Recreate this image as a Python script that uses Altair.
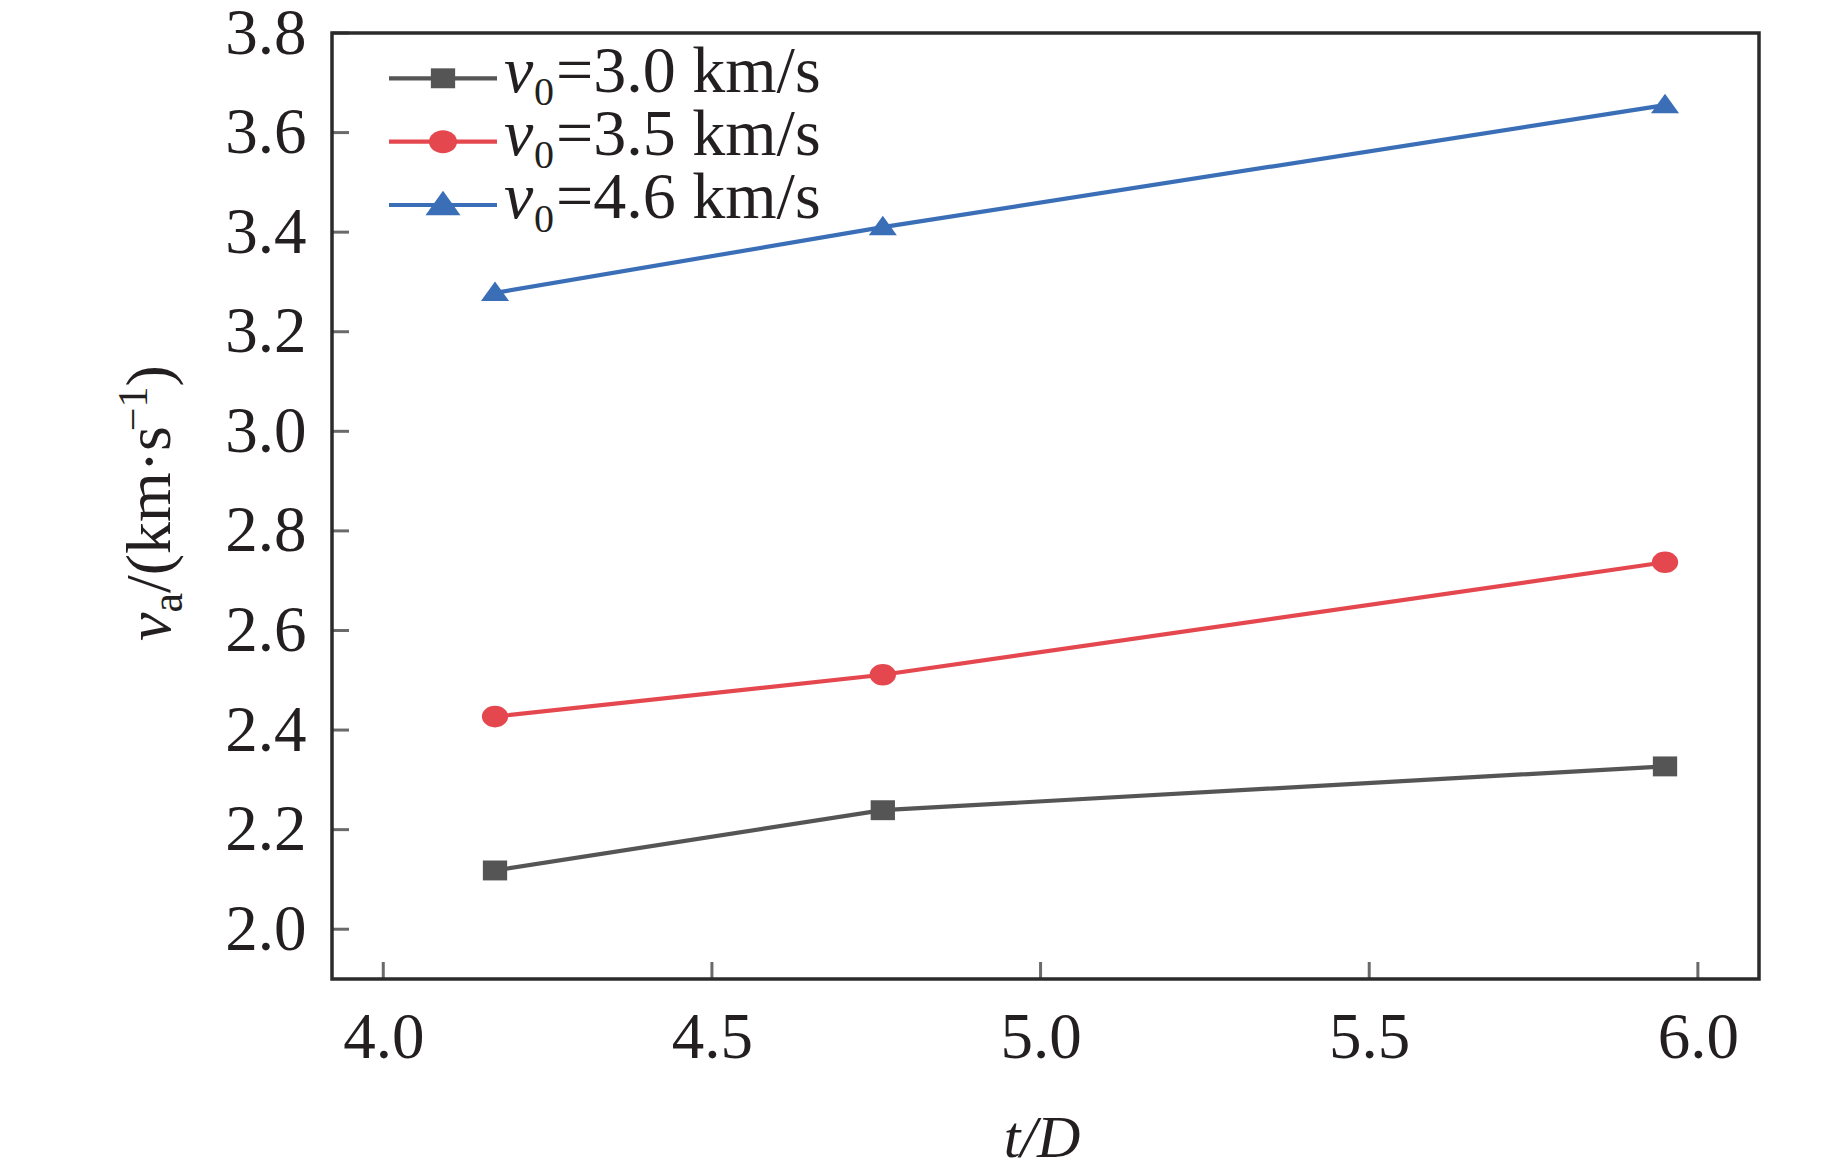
import altair as alt
import pandas as pd

# t/D and measured v_a (km/s) for each impact velocity v0
t_D = [4.17, 4.76, 5.95]
va_30 = [2.118, 2.239, 2.327]
va_35 = [2.427, 2.511, 2.737]
va_46 = [3.278, 3.410, 3.655]

v0_labels = ["3.0", "3.5", "4.6"]
series = ["v0=%s km/s" % v for v in v0_labels]
colors = ["#555555", "#e5474f", "#3a6fb8"]

x_ticks = [4.0, 4.5, 5.0, 5.5, 6.0]
y_ticks = [2.0, 2.2, 2.4, 2.6, 2.8, 3.0, 3.2, 3.4, 3.6, 3.8]

df = pd.DataFrame({
    "t_D": t_D * 3,
    "va": va_30 + va_35 + va_46,
    "series": [s for s in series for _ in t_D],
})

W, H = 1427, 946
FONT = "Liberation Serif"
INK = "#231f20"
FRAME = "#2b2b2b"

x_scale = alt.Scale(domain=[3.922, 6.093], nice=False, zero=False)
y_scale = alt.Scale(domain=[1.90, 3.80], nice=False, zero=False)

x_axis = alt.Axis(values=x_ticks, format=".1f", title=None, grid=False, domain=False,
                  ticks=False, tickSize=0, labelFont=FONT, labelFontSize=65,
                  labelColor=INK, labelPadding=27, labelFlush=False, labelOverlap=False)
y_axis = alt.Axis(values=y_ticks, format=".1f", title=None, grid=False, domain=False,
                  ticks=False, tickSize=0, labelFont=FONT, labelFontSize=65,
                  labelColor=INK, labelPadding=26, labelFlush=False, labelOverlap=False)

# markers are a little wider than tall in the original
square = "M-1,-0.82L1,-0.82L1,0.82L-1,0.82Z"
ellipse = "M-1,0A1,0.82,0,1,1,1,0A1,0.82,0,1,1,-1,0Z"
triangle = "M0,-0.81L-1,0.58L1,0.58Z"
shapes = [square, ellipse, triangle]
sizes = [590, 790, 1225]

base = alt.Chart(df).encode(
    x=alt.X("t_D:Q", scale=x_scale, axis=x_axis),
    y=alt.Y("va:Q", scale=y_scale, axis=y_axis),
    color=alt.Color("series:N", scale=alt.Scale(domain=series, range=colors), legend=None),
)
lines = base.mark_line(strokeWidth=4.2)
points = base.mark_point(filled=True, opacity=1).encode(
    shape=alt.Shape("series:N", scale=alt.Scale(domain=series, range=shapes), legend=None),
    size=alt.Size("series:N", scale=alt.Scale(domain=series, range=sizes), legend=None),
)

# inward ticks
xt = alt.Chart(pd.DataFrame({"t_D": x_ticks})).mark_tick(
    size=17, thickness=3, color=FRAME
).encode(x=alt.X("t_D:Q", scale=x_scale, axis=x_axis), y=alt.value(H - 8.5))
yt = alt.Chart(pd.DataFrame({"va": y_ticks})).mark_tick(
    size=17, thickness=3, color=FRAME
).encode(y=alt.Y("va:Q", scale=y_scale, axis=y_axis), x=alt.value(8.5))


def one():
    return alt.Chart(alt.Data(values=[{}]))


def label(text, x, y, size, italic=False, angle=0, align="left"):
    return one().mark_text(
        text=text, font=FONT, fontSize=size, color=INK, align=align,
        baseline="alphabetic", angle=angle,
        fontStyle="italic" if italic else "normal",
    ).encode(x=alt.value(x), y=alt.value(y))


decor = []

# legend
rows_y = [45.3, 108.7, 172]
for v, c, shp, sz, ry in zip(v0_labels, colors, shapes, sizes, rows_y):
    decor.append(one().mark_rule(color=c, strokeWidth=4.2).encode(
        x=alt.value(57), x2=alt.value(165), y=alt.value(ry)))
    decor.append(one().mark_point(filled=True, opacity=1, shape=shp, size=sz, color=c).encode(
        x=alt.value(111), y=alt.value(ry)))
    decor.append(label("v", 172, ry + 13.4, 66, italic=True))
    decor.append(label("0", 202, ry + 26.7, 40))
    decor.append(label("=%s km/s" % v, 224, ry + 13.4, 66))

# x title
decor.append(label("t/D", 710, 1124, 60, italic=True, align="center"))

# y title, rotated, built from pieces
decor.append(label("v", -162, 608, 64, italic=True, angle=270))
decor.append(label("a", -150, 579.6, 44, angle=270))
decor.append(label("/(km\u00b7s", -162, 560.1, 64, angle=270))
decor.append(label("\u22121", -185, 398.3, 42, angle=270))
decor.append(label(")", -162, 353.6, 64, angle=270))

chart = alt.layer(lines, points, xt, yt, *decor).properties(
    width=W, height=H,
    autosize=alt.AutoSizeParams(type="none"),
    padding={"left": 324, "top": 25, "right": 70, "bottom": 180},
).configure_view(stroke=FRAME, strokeWidth=3.5)

chart.save("out.html", embed_options={"renderer": "svg", "actions": False})
